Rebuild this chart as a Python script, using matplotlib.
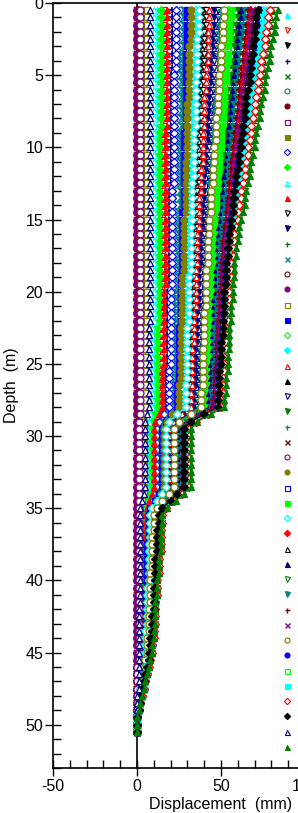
import matplotlib
matplotlib.use("Agg")
import matplotlib.pyplot as plt
from matplotlib.lines import Line2D
from matplotlib.ticker import MultipleLocator

plt.rcParams['font.family'] = ['Liberation Sans', 'DejaVu Sans']
plt.rcParams['axes.unicode_minus'] = False

# ---------------- data ----------------
depth_m = [0.5, 1.0, 1.5, 2.0, 2.5, 3.0, 3.5, 4.0, 4.5, 5.0, 5.5, 6.0, 6.5, 7.0, 7.5, 8.0, 8.5, 9.0, 9.5, 10.0,
           10.5, 11.0, 11.5, 12.0, 12.5, 13.0, 13.5, 14.0, 14.5, 15.0, 15.5, 16.0, 16.5, 17.0, 17.5, 18.0, 18.5, 19.0, 19.5, 20.0,
           20.5, 21.0, 21.5, 22.0, 22.5, 23.0, 23.5, 24.0, 24.5, 25.0, 25.5, 26.0, 26.5, 27.0, 27.5, 28.0, 28.5, 29.0, 29.5, 30.0,
           30.5, 31.0, 31.5, 32.0, 32.5, 33.0, 33.5, 34.0, 34.5, 35.0, 35.5, 36.0, 36.5, 37.0, 37.5, 38.0, 38.5, 39.0, 39.5, 40.0,
           40.5, 41.0, 41.5, 42.0, 42.5, 43.0, 43.5, 44.0, 44.5, 45.0, 45.5, 46.0, 46.5, 47.0, 47.5, 48.0, 48.5, 49.0, 49.5, 50.0,
           50.5]

# displacement (mm) of each reading, keyed by legend position
displacement_mm = {
 1: [12,12,12,12,12,12,12,12,12,12,12,12,12,12,12,12,12,11,11,11,11,11,11,11,11,11,11,11,11,11,11,11,11,11,
     11,11,11,11,11,11,11,11,11,11,10,10,10,10,10,10,10,10,10,10,10,10,
     9,8,7,7,7,7,7,7,7,7,7,6,5,4,
     3,3,3,3,3,3,3,3,3,2,2,2,2,2,2,2,2,2,2,2,2,1,1,1,1,1,0,0,0,0,0],
 2: [16,16,16,16,16,16,16,16,16,16,16,16,16,16,16,16,16,15,15,15,15,15,15,15,15,15,15,15,15,15,15,15,15,15,
     15,15,15,15,15,15,15,15,15,15,14,14,14,14,14,14,14,14,14,14,14,14,
     12,10,9,9,9,9,9,9,9,9,9,8,6,5,
     4,4,4,4,4,4,4,3,3,3,3,3,3,3,3,3,3,3,2,2,2,2,2,1,1,1,1,0,0,0,0],
 3: [39,39,39,39,38,38,38,38,38,38,37,37,37,37,37,37,37,36,36,36,36,36,36,36,35,35,35,35,35,35,34,34,34,34,
     34,34,34,33,33,33,33,33,33,33,32,32,32,32,32,32,32,32,31,31,31,31,
     26,21,18,18,18,18,18,18,18,18,18,15,13,10,
     8,8,8,8,7,7,7,7,7,7,6,6,6,6,6,6,5,5,5,5,4,4,3,3,2,2,1,1,0,0,0],
 4: [21,21,21,21,21,21,21,21,21,20,20,20,20,20,20,20,20,20,20,20,20,20,20,20,20,19,19,19,19,19,19,19,19,19,
     19,19,19,19,19,18,18,18,18,18,18,18,18,18,18,18,17,17,17,17,17,17,
     15,12,11,11,11,11,11,11,11,11,11,10,8,6,
     5,5,5,5,5,5,4,4,4,4,4,4,4,4,4,3,3,3,3,3,3,2,2,2,1,1,1,0,0,0,0],
 5: [0,0,0,0,0,0,0,0,0,0,0,0,0,0,0,0,0,0,0,0,0,0,0,0,0,0,0,0,0,0,0,0,0,0,
     0,0,0,0,0,0,0,0,0,0,0,0,0,0,0,0,0,0,0,0,0,0,
     0,0,0,0,0,0,0,0,0,0,0,0,0,0,
     0,0,0,0,0,0,0,0,0,0,0,0,0,0,0,0,0,0,0,0,0,0,0,0,0,0,0,0,0,0,0],
 6: [26,26,26,26,26,26,26,26,26,25,25,25,25,25,25,25,25,25,25,25,25,25,25,25,25,24,24,24,24,24,24,24,24,24,
     24,24,24,24,24,23,23,23,23,23,23,23,23,23,23,23,22,22,22,22,22,22,
     18,15,13,13,13,13,13,13,13,13,13,11,9,7,
     6,6,6,6,6,5,5,5,5,5,5,5,5,4,4,4,4,4,4,3,3,3,2,2,2,1,1,0,0,0,0],
 7: [0,0,0,0,0,0,0,0,0,0,0,0,0,0,0,0,0,0,0,0,0,0,0,0,0,0,0,0,0,0,0,0,0,0,
     0,0,0,0,0,0,0,0,0,0,0,0,0,0,0,0,0,0,0,0,0,0,
     0,0,0,0,0,0,0,0,0,0,0,0,0,0,
     0,0,0,0,0,0,0,0,0,0,0,0,0,0,0,0,0,0,0,0,0,0,0,0,0,0,0,0,0,0,0],
 8: [0,0,0,0,0,0,0,0,0,0,0,0,0,0,0,0,0,0,0,0,0,0,0,0,0,0,0,0,0,0,0,0,0,0,
     0,0,0,0,0,0,0,0,0,0,0,0,0,0,0,0,0,0,0,0,0,0,
     0,0,0,0,0,0,0,0,0,0,0,0,0,0,
     0,0,0,0,0,0,0,0,0,0,0,0,0,0,0,0,0,0,0,0,0,0,0,0,0,0,0,0,0,0,0],
 9: [4,4,4,4,4,4,4,4,4,4,4,4,4,4,4,4,4,4,4,4,4,4,4,4,4,4,4,4,4,4,4,4,4,4,
     4,4,4,4,4,4,4,4,4,4,4,4,4,4,4,4,4,4,4,4,4,4,
     4,3,3,3,3,3,3,3,3,3,3,3,2,1,
     1,1,1,1,1,1,1,1,1,1,1,1,1,1,1,1,1,1,1,1,1,0,0,0,0,0,0,0,0,0,0],
 10: [23,23,23,23,23,23,23,23,23,22,22,22,22,22,22,22,22,22,22,22,22,22,22,22,22,21,21,21,21,21,21,21,21,21,
      21,21,21,21,21,20,20,20,20,20,20,20,20,20,20,20,19,19,19,19,19,19,
      16,13,12,12,12,12,12,12,12,12,12,10,9,7,
      6,6,6,6,6,5,5,5,5,5,5,5,5,4,4,4,4,4,4,3,3,3,2,2,2,1,1,0,0,0,0],
 11: [14,14,14,14,14,14,14,14,14,14,14,14,14,14,14,14,14,13,13,13,13,13,13,13,13,13,13,13,13,13,13,13,13,13,
      13,13,13,13,13,13,13,13,13,13,12,12,12,12,12,12,12,12,12,12,12,12,
      10,9,8,8,8,8,8,8,8,8,8,7,6,5,
      4,4,4,4,4,4,4,3,3,3,3,3,3,3,3,3,3,3,2,2,2,2,2,1,1,1,1,0,0,0,0],
 12: [10,10,10,10,10,10,10,10,10,10,10,10,10,10,10,10,10,10,10,10,10,10,10,10,10,10,10,10,10,10,10,10,10,10,
      10,10,10,10,10,10,10,10,10,10,9,9,9,9,9,9,9,9,9,9,9,9,
      8,7,6,6,6,6,6,6,6,6,6,5,4,3,
      3,3,3,3,3,3,3,3,3,2,2,2,2,2,2,2,2,2,2,2,2,1,1,1,1,1,0,0,0,0,0],
 13: [18,18,18,18,18,18,18,18,18,18,18,18,18,18,18,18,18,17,17,17,17,17,17,17,17,17,17,17,17,17,17,17,17,17,
      17,17,17,17,17,16,16,16,16,16,16,16,16,16,16,16,15,15,15,15,15,15,
      13,11,10,10,10,10,10,10,10,10,10,9,7,6,
      5,5,5,5,5,5,4,4,4,4,4,4,4,4,4,3,3,3,3,3,3,2,2,2,1,1,1,0,0,0,0],
 14: [41,41,41,40,40,40,40,40,40,39,39,39,39,39,38,38,38,38,38,38,37,37,37,37,37,36,36,36,36,36,36,35,35,35,
      35,35,35,34,34,34,34,34,34,34,33,33,33,33,33,33,33,33,32,32,32,32,
      27,22,19,19,19,19,19,19,19,19,19,16,14,11,
      9,9,9,8,8,8,8,8,8,7,7,7,7,7,6,6,6,6,5,5,5,4,4,3,2,2,1,1,0,0,0],
 15: [46,46,46,45,45,45,45,44,44,44,44,43,43,43,43,42,42,42,42,41,41,41,41,40,40,40,40,39,39,39,39,38,38,38,
      38,38,37,37,37,37,37,37,36,36,36,36,36,35,35,35,35,35,35,34,34,34,
      28,23,20,20,20,20,20,20,20,20,20,17,14,11,
      9,9,9,8,8,8,8,8,8,7,7,7,7,7,6,6,6,6,5,5,5,4,4,3,2,2,1,1,0,0,0],
 16: [58,58,57,57,57,56,56,55,55,55,54,54,54,53,53,53,52,52,51,51,51,50,50,50,49,49,49,48,48,47,47,47,46,46,
      46,46,45,45,45,45,44,44,44,44,43,43,43,43,43,42,42,42,42,41,41,41,
      34,27,24,24,24,24,24,24,24,24,24,21,17,13,
      11,11,11,10,10,10,10,9,9,9,9,9,8,8,8,8,7,7,7,6,6,5,4,4,3,2,1,1,0,0,0],
 17: [28,28,28,28,28,28,27,27,27,27,27,27,27,27,27,27,27,26,26,26,26,26,26,26,26,26,26,26,25,25,25,25,25,25,
      25,25,25,25,25,24,24,24,24,24,24,24,24,24,24,24,23,23,23,23,23,23,
      19,16,14,14,14,14,14,14,14,14,14,12,10,8,
      7,7,7,7,6,6,6,6,6,6,6,5,5,5,5,5,5,4,4,4,4,3,3,2,2,1,1,0,0,0,0],
 18: [0,0,0,0,0,0,0,0,0,0,0,0,0,0,0,0,0,0,0,0,0,0,0,0,0,0,0,0,0,0,0,0,0,0,
      0,0,0,0,0,0,0,0,0,0,0,0,0,0,0,0,0,0,0,0,0,0,
      0,0,0,0,0,0,0,0,0,0,0,0,0,0,
      0,0,0,0,0,0,0,0,0,0,0,0,0,0,0,0,0,0,0,0,0,0,0,0,0,0,0,0,0,0,0],
 19: [0,0,0,0,0,0,0,0,0,0,0,0,0,0,0,0,0,0,0,0,0,0,0,0,0,0,0,0,0,0,0,0,0,0,
      0,0,0,0,0,0,0,0,0,0,0,0,0,0,0,0,0,0,0,0,0,0,
      0,0,0,0,0,0,0,0,0,0,0,0,0,0,
      0,0,0,0,0,0,0,0,0,0,0,0,0,0,0,0,0,0,0,0,0,0,0,0,0,0,0,0,0,0,0],
 20: [6,6,6,6,6,6,6,6,6,6,6,6,6,6,6,6,6,6,6,6,6,6,6,6,6,6,6,6,6,6,6,6,6,6,
      6,6,6,6,6,6,6,6,6,6,5,5,5,5,5,5,5,5,5,5,5,5,
      5,4,4,4,4,4,4,4,4,4,4,4,3,2,
      2,2,2,2,2,2,2,2,2,2,2,2,2,1,1,1,1,1,1,1,1,1,1,1,1,0,0,0,0,0,0],
 21: [30,30,30,30,30,30,29,29,29,29,29,29,29,29,29,29,29,28,28,28,28,28,28,28,28,28,28,28,27,27,27,27,27,27,
      27,27,27,26,26,26,26,26,26,26,25,25,25,25,25,25,25,25,24,24,24,24,
      20,17,15,15,15,15,15,15,15,15,15,13,11,8,
      7,7,7,7,6,6,6,6,6,6,6,5,5,5,5,5,5,4,4,4,4,3,3,2,2,1,1,0,0,0,0],
 22: [54,54,53,53,53,52,52,52,52,51,51,51,50,50,50,49,49,49,49,48,48,48,47,47,47,46,46,46,46,45,45,45,44,44,
      44,44,43,43,43,43,42,42,42,42,41,41,41,41,41,40,40,40,40,39,39,39,
      33,26,23,23,23,23,23,23,23,23,23,20,16,13,
      11,11,11,10,10,10,10,9,9,9,9,9,8,8,8,8,7,7,7,6,6,5,4,4,3,2,1,1,0,0,0],
 23: [35,35,35,35,35,34,34,34,34,34,34,34,34,33,33,33,33,33,33,33,33,32,32,32,32,32,32,32,32,31,31,31,31,31,
      31,31,31,30,30,30,30,30,30,30,29,29,29,29,29,29,29,29,28,28,28,28,
      24,19,17,17,17,17,17,17,17,17,17,15,12,9,
      8,8,8,8,7,7,7,7,7,7,6,6,6,6,6,6,5,5,5,5,4,4,3,3,2,2,1,1,0,0,0],
 24: [43,43,43,42,42,42,42,42,41,41,41,41,40,40,40,40,40,39,39,39,39,39,38,38,38,38,37,37,37,37,37,36,36,36,
      36,36,35,35,35,35,35,35,34,34,34,34,34,33,33,33,33,33,33,32,32,32,
      27,22,19,19,19,19,19,19,19,19,19,16,14,11,
      9,9,9,8,8,8,8,8,8,7,7,7,7,7,6,6,6,6,5,5,5,4,4,3,2,2,1,1,0,0,0],
 25: [70,69,69,68,68,67,67,66,66,65,65,64,64,63,63,62,62,61,61,60,60,59,59,58,58,57,57,56,56,55,55,54,54,53,
      53,52,52,52,52,51,51,51,51,50,50,50,49,49,49,49,48,48,48,48,47,47,
      39,32,28,28,28,28,28,28,28,28,28,24,20,15,
      13,13,12,12,12,12,11,11,11,11,10,10,10,10,9,9,9,8,8,7,7,6,5,4,3,2,2,1,0,0,0],
 26: [48,48,48,47,47,47,47,46,46,46,46,45,45,45,45,44,44,44,44,43,43,43,43,42,42,42,42,41,41,41,41,40,40,40,
      40,40,39,39,39,39,39,39,38,38,38,38,38,37,37,37,37,37,37,36,36,36,
      30,24,21,21,21,21,21,21,21,21,21,18,15,12,
      10,10,10,9,9,9,9,9,8,8,8,8,8,7,7,7,7,6,6,6,5,5,4,3,3,2,1,1,0,0,0],
 27: [60,60,59,59,58,58,58,57,57,56,56,56,55,55,54,54,54,53,53,53,52,52,51,51,51,50,50,49,49,49,48,48,47,47,
      47,47,46,46,46,46,45,45,45,45,44,44,44,44,44,43,43,43,43,42,42,42,
      35,28,25,25,25,25,25,25,25,25,25,22,18,14,
      12,12,12,11,11,11,11,10,10,10,10,9,9,9,9,8,8,8,7,7,6,6,5,4,3,2,2,1,0,0,0],
 28: [50,50,49,49,49,49,48,48,48,48,47,47,47,46,46,46,46,45,45,45,45,44,44,44,43,43,43,43,42,42,42,42,41,41,
      41,41,40,40,40,40,40,40,39,39,39,39,39,38,38,38,38,38,38,37,37,37,
      31,25,22,22,22,22,22,22,22,22,22,19,15,12,
      10,10,10,9,9,9,9,9,8,8,8,8,8,7,7,7,7,6,6,6,5,5,4,3,3,2,1,1,0,0,0],
 29: [1,1,1,1,1,1,1,1,1,1,1,1,1,1,1,1,1,1,1,1,1,1,1,1,1,1,1,1,1,1,1,1,1,1,
      1,1,1,1,1,1,1,1,1,1,1,1,1,1,1,1,1,1,1,1,1,1,
      1,1,1,1,1,1,1,1,1,1,1,1,1,1,
      1,1,1,1,1,1,1,1,1,1,1,1,1,1,1,1,1,1,1,1,1,0,0,0,0,0,0,0,0,0,0],
 30: [2,2,2,2,2,2,2,2,2,2,2,2,2,2,2,2,2,2,2,2,2,2,2,2,2,2,2,2,2,2,2,2,2,2,
      2,2,2,2,2,2,2,2,2,2,2,2,2,2,2,2,2,2,2,2,2,2,
      2,1,1,1,1,1,1,1,1,1,1,1,1,1,
      1,1,1,1,1,1,1,1,1,1,1,1,1,1,1,1,1,1,1,1,1,0,0,0,0,0,0,0,0,0,0],
 31: [32,32,32,32,32,31,31,31,31,31,31,31,31,30,30,30,30,30,30,30,30,29,29,29,29,29,29,29,29,28,28,28,28,28,
      28,28,28,27,27,27,27,27,27,27,26,26,26,26,26,26,26,26,25,25,25,25,
      21,18,16,16,16,16,16,16,16,16,16,14,12,9,
      8,8,8,8,7,7,7,7,7,7,6,6,6,6,6,6,5,5,5,5,4,4,3,3,2,2,1,1,0,0,0],
 32: [75,74,74,73,73,72,71,71,70,70,69,68,68,67,67,66,65,65,64,63,63,62,62,61,60,60,59,59,58,57,57,56,56,55,
      55,54,54,54,54,53,53,53,53,52,52,52,51,51,51,51,50,50,50,50,49,49,
      41,33,29,29,29,29,29,29,29,29,29,25,21,16,
      14,14,13,13,13,13,12,12,12,11,11,11,11,10,10,10,9,9,9,8,7,6,6,5,4,3,2,1,0,0,0],
 33: [56,56,55,55,55,54,54,54,53,53,53,52,52,52,51,51,51,50,50,50,49,49,49,48,48,48,47,47,47,46,46,46,45,45,
      45,45,44,44,44,44,43,43,43,43,42,42,42,42,42,41,41,41,41,40,40,40,
      34,27,24,24,24,24,24,24,24,24,24,21,17,13,
      11,11,11,10,10,10,10,9,9,9,9,9,8,8,8,8,7,7,7,6,6,5,4,4,3,2,1,1,0,0,0],
 34: [37,37,37,37,36,36,36,36,36,36,35,35,35,35,35,35,35,34,34,34,34,34,34,34,33,33,33,33,33,33,32,32,32,32,
      32,32,32,31,31,31,31,31,31,31,30,30,30,30,30,30,30,30,29,29,29,29,
      24,19,17,17,17,17,17,17,17,17,17,15,12,9,
      8,8,8,8,7,7,7,7,7,7,6,6,6,6,6,6,5,5,5,5,4,4,3,3,2,2,1,1,0,0,0],
 35: [67,67,66,66,65,65,64,64,63,63,62,62,61,61,60,60,59,59,58,58,57,57,56,56,55,55,54,54,53,53,52,52,51,51,
      51,50,50,50,50,49,49,49,49,48,48,48,47,47,47,47,46,46,46,46,45,45,
      38,31,27,27,27,27,27,27,27,27,27,23,19,15,
      13,13,12,12,12,12,11,11,11,11,10,10,10,10,9,9,9,8,8,7,7,6,5,4,3,2,2,1,0,0,0],
 36: [80,79,79,78,77,77,76,75,74,74,73,72,72,71,70,70,69,68,67,67,66,65,65,64,63,63,62,61,60,60,59,58,58,57,
      57,56,56,56,55,55,55,54,54,54,53,53,53,53,52,52,52,51,51,51,50,50,
      42,35,31,31,31,31,31,31,31,31,31,27,22,17,
      15,15,14,14,14,14,13,13,13,12,12,12,11,11,11,11,10,10,9,9,8,7,6,5,4,3,2,1,0,0,0],
 37: [62,62,61,61,60,60,59,59,59,58,58,57,57,56,56,56,55,55,54,54,54,53,53,52,52,51,51,51,50,50,49,49,48,48,
      48,48,47,47,47,47,46,46,46,46,45,45,45,45,45,44,44,44,44,43,43,43,
      36,29,25,25,25,25,25,25,25,25,25,22,18,14,
      12,12,12,11,11,11,11,10,10,10,10,9,9,9,9,8,8,8,7,7,6,6,5,4,3,2,2,1,0,0,0],
 38: [82,81,81,80,79,78,78,77,76,75,75,74,73,73,72,71,70,70,69,68,67,67,66,65,65,64,63,62,62,61,60,59,59,58,
      58,57,57,57,56,56,56,55,55,55,54,54,54,54,53,53,53,52,52,52,51,51,
      43,35,31,31,31,31,31,31,31,31,31,27,22,17,
      15,15,14,14,14,14,13,13,13,12,12,12,11,11,11,11,10,10,9,9,8,7,6,5,4,3,2,1,0,0,0],
 39: [64,64,63,63,62,62,61,61,60,60,59,59,59,58,58,57,57,56,56,55,55,54,54,54,53,53,52,52,51,51,50,50,49,49,
      49,49,48,48,48,48,47,47,47,47,46,46,46,46,46,45,45,45,45,44,44,44,
      37,30,26,26,26,26,26,26,26,26,26,22,18,14,
      12,12,12,11,11,11,11,10,10,10,10,9,9,9,9,8,8,8,7,7,6,6,5,4,3,2,2,1,0,0,0],
 40: [66,66,65,65,64,64,63,63,62,62,61,61,61,60,60,59,59,58,58,57,57,56,56,56,55,55,54,54,53,53,52,52,51,51,
      51,50,50,50,50,49,49,49,49,48,48,48,47,47,47,47,46,46,46,46,45,45,
      38,31,27,27,27,27,27,27,27,27,27,23,19,15,
      13,13,12,12,12,12,11,11,11,11,10,10,10,10,9,9,9,8,8,7,7,6,5,4,3,2,2,1,0,0,0],
 41: [69,68,68,67,67,66,66,65,65,64,64,63,63,62,62,61,61,60,60,59,59,58,58,57,57,56,56,55,55,54,54,53,53,52,
      52,51,51,51,51,50,50,50,50,49,49,49,48,48,48,48,47,47,47,47,46,46,
      39,32,28,28,28,28,28,28,28,28,28,24,20,15,
      13,13,12,12,12,12,11,11,11,11,10,10,10,10,9,9,9,8,8,7,7,6,5,4,3,2,2,1,0,0,0],
 42: [52,52,51,51,51,50,50,50,50,49,49,49,48,48,48,47,47,47,47,46,46,46,45,45,45,44,44,44,44,43,43,43,42,42,
      42,42,41,41,41,41,41,41,40,40,40,40,40,39,39,39,39,39,39,38,38,38,
      32,25,22,22,22,22,22,22,22,22,22,19,15,12,
      10,10,10,9,9,9,9,9,8,8,8,8,8,7,7,7,7,6,6,6,5,5,4,3,3,2,1,1,0,0,0],
 43: [73,72,72,71,71,70,70,69,68,68,67,67,66,66,65,64,64,63,63,62,61,61,60,60,59,59,58,57,57,56,56,55,55,54,
      54,53,53,53,53,52,52,52,52,51,51,51,50,50,50,50,49,49,49,49,48,48,
      40,33,29,29,29,29,29,29,29,29,29,25,21,16,
      14,14,13,13,13,13,12,12,12,11,11,11,11,10,10,10,9,9,9,8,7,6,6,5,4,3,2,1,0,0,0],
 44: [77,76,76,75,74,74,73,73,72,71,71,70,69,69,68,67,67,66,66,65,64,64,63,62,62,61,60,60,59,59,58,57,57,56,
      56,55,55,55,55,54,54,54,54,53,53,53,52,52,52,52,51,51,51,51,50,50,
      42,34,30,30,30,30,30,30,30,30,30,26,21,16,
      14,14,13,13,13,13,12,12,12,11,11,11,11,10,10,10,9,9,9,8,7,6,6,5,4,3,2,1,0,0,0],
 45: [76,75,75,74,73,73,72,72,71,70,70,69,68,68,67,66,66,65,65,64,63,63,62,61,61,60,59,59,58,58,57,56,56,55,
      55,54,54,54,54,53,53,53,53,52,52,52,51,51,51,51,50,50,50,50,49,49,
      41,34,30,30,30,30,30,30,30,30,30,26,21,16,
      14,14,13,13,13,13,12,12,12,11,11,11,11,10,10,10,9,9,9,8,7,6,6,5,4,3,2,1,0,0,0],
 46: [79,78,78,77,76,76,75,74,74,73,72,72,71,70,70,69,68,68,67,66,66,65,64,64,63,62,62,61,60,60,59,58,58,57,
      57,56,56,56,55,55,55,54,54,54,53,53,53,53,52,52,52,51,51,51,50,50,
      42,35,31,31,31,31,31,31,31,31,31,27,22,17,
      15,15,14,14,14,14,13,13,13,12,12,12,11,11,11,11,10,10,9,9,8,7,6,5,4,3,2,1,0,0,0],
 47: [72,71,71,70,70,69,69,68,68,67,67,66,65,65,64,64,63,63,62,62,61,61,60,59,59,58,58,57,57,56,56,55,55,54,
      54,53,53,53,53,52,52,52,52,51,51,51,50,50,50,50,49,49,49,49,48,48,
      40,32,28,28,28,28,28,28,28,28,28,24,20,15,
      13,13,12,12,12,12,11,11,11,11,10,10,10,10,9,9,9,8,8,7,7,6,5,4,3,2,2,1,0,0,0],
 48: [8,8,8,8,8,8,8,8,8,8,8,8,8,8,8,8,8,8,8,8,8,8,8,8,8,8,8,8,8,8,8,8,8,8,
      8,8,8,8,8,8,8,8,8,8,7,7,7,7,7,7,7,7,7,7,7,7,
      6,5,5,5,5,5,5,5,5,5,5,4,3,2,
      2,2,2,2,2,2,2,2,2,2,2,2,2,1,1,1,1,1,1,1,1,1,1,1,1,0,0,0,0,0,0],
 49: [84,83,82,82,81,80,79,79,78,77,76,76,75,74,73,73,72,71,70,70,69,68,67,67,66,65,64,64,63,62,61,61,60,59,
      59,58,58,58,57,57,57,56,56,56,55,55,55,55,54,54,54,53,53,53,52,52,
      44,36,32,32,32,32,32,32,32,32,32,28,23,18,
      15,15,14,14,14,14,13,13,13,12,12,12,11,11,11,11,10,10,9,9,8,7,6,5,4,3,2,1,0,0,0],
}

# ---------------- styles ----------------
colour_cycle = ['#00FFFF', '#FF0000', '#000000', '#000080', '#008000', '#008080',
                '#800000', '#800080', '#808000', '#0000FF', '#00FF00']
marker_cycle = [('^', False), ('^', True), ('v', False), ('v', True), ('+', True), ('x', True),
                ('o', False), ('o', True), ('s', False), ('s', True), ('D', False), ('D', True)]

x_ticks = [-50, 0, 50, 100]
y_ticks = [0, 5, 10, 15, 20, 25, 30, 35, 40, 45, 50]

bad = [(k, len(v)) for k, v in displacement_mm.items() if len(v) != len(depth_m)]
if bad:
    raise SystemExit("length mismatch: %s" % bad)

# ---------------- figure ----------------
W, H = 298, 813
AX_L, AX_B, AX_W, AX_H = 53, 45, 252, 765
fig = plt.figure(figsize=(W / 100, H / 100), dpi=100)
ax = fig.add_axes([AX_L / W, AX_B / H, AX_W / W, AX_H / H])

ax.axvline(0, color='black', lw=1.2, zorder=1.5)

handles = []
for k in sorted(displacement_mm):
    c = colour_cycle[(k - 1) % len(colour_cycle)]
    m, filled = marker_cycle[k % len(marker_cycle)]
    ms = 4.3 if m == 'D' else 5
    mew = 1.2 if m in '+x' else 0.9
    ax.plot(displacement_mm[k], depth_m, color=c, lw=0.8, marker=m, ms=ms,
            mfc=c if filled else 'white', mec=c, mew=mew, zorder=2)
    handles.append(Line2D([], [], ls='none', marker=m, ms=3.6 if m != 'D' else 3.2,
                          color=c, mfc=c if filled else 'white', mec=c,
                          mew=1.0 if m in '+x' else 0.8))

ax.set_xlim(-50, 100)
ax.set_ylim(53, 0)
ax.set_xticks(x_ticks)
ax.set_yticks(y_ticks)
ax.xaxis.set_minor_locator(MultipleLocator(10))
ax.yaxis.set_minor_locator(MultipleLocator(1))
ax.tick_params(which='major', direction='inout', length=12, width=1.0, labelsize=11.5, colors='black')
ax.tick_params(which='minor', direction='in', length=6, width=1.0)
ax.tick_params(axis='y', which='major', pad=1)
ax.tick_params(axis='x', which='major', pad=2)
ax.tick_params(top=False, right=False, which='both')
for side in ('left', 'bottom', 'top'):
    ax.spines[side].set_linewidth(1.2)
ax.spines['right'].set_visible(False)

ax.set_xlabel('Displacement  (mm)', fontsize=11.5)
ax.xaxis.set_label_coords((221 - AX_L) / AX_W, -(804 - 768) / AX_H)
ax.xaxis.label.set_va('center')
ax.set_ylabel('Depth  (m)', fontsize=11.5)
ax.yaxis.set_label_coords((12 - AX_L) / AX_W, 0.5)
ax.yaxis.label.set_va('center')

leg = ax.legend(handles, [''] * len(handles), loc='upper left',
                bbox_to_anchor=((283 - AX_L) / AX_W, 0.9905), frameon=False, fontsize=7,
                handlelength=0.8, handletextpad=0.0, labelspacing=0.54,
                borderpad=0, borderaxespad=0, numpoints=1)

fig.savefig('out.png', dpi=100)
